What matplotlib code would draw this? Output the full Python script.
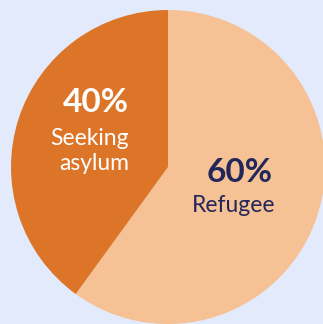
import matplotlib
matplotlib.use("Agg")
import matplotlib.pyplot as plt

categories = ["Refugee", "Seeking\nasylum"]
shares = [60, 40]
colors = ["#f5c195", "#dc7527"]
text_colors = ["#22275a", "#ffffff"]

W, H = 323, 324
fig = plt.figure(figsize=(W / 100, H / 100), dpi=100)
fig.patch.set_facecolor("#e2eafc")
ax = fig.add_axes([0, 0, 1, 1])

ax.pie(shares, colors=colors, startangle=90, counterclock=False,
       center=(168, 157), radius=157, frame=True,
       wedgeprops=dict(linewidth=0))
ax.set_xlim(0, W)
ax.set_ylim(0, H)
ax.set_aspect("equal")
ax.axis("off")

font = "Lato"
# label blocks, right-aligned
pos = [(273, 151), (129, 221)]
for (x, y), cat, val, tc in zip(pos, categories, shares, text_colors):
    ax.text(x, y, f"{val}%", ha="right", va="center", fontsize=24,
            fontweight="bold", color=tc, family=font)
    two = "\n" in cat
    ax.text(x + (2 if not two else 0), y - 33 - (15 if two else 0), cat,
            ha="right", va="center", fontsize=16.5, color=tc, family=font,
            linespacing=1.2)

fig.savefig("out.png", dpi=100, facecolor=fig.get_facecolor())
